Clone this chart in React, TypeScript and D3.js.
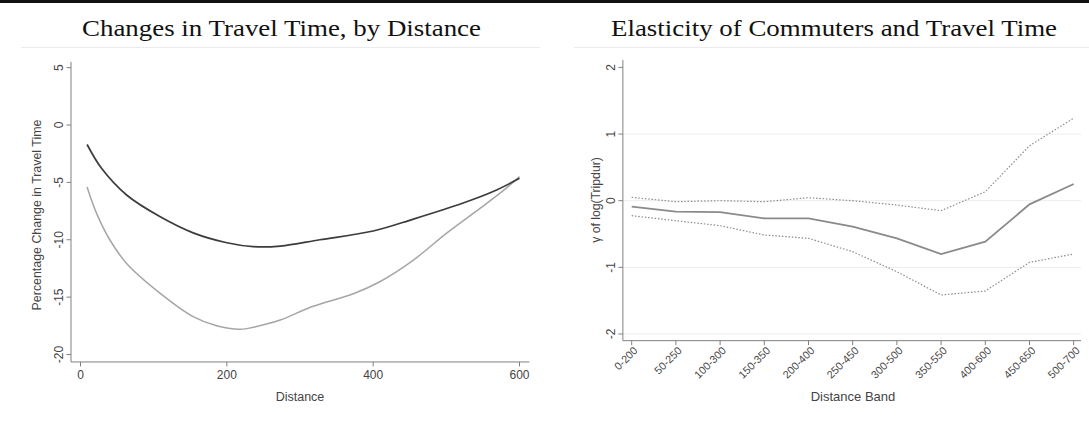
import React from "react";
import * as d3 from "d3";

// left panel: percentage change in travel time by distance
const smoothDark: [number, number][] = [
  [9, -1.7], [29, -3.8], [63, -6.1], [109, -8.0], [154, -9.4], [200, -10.26],
  [236, -10.6], [273, -10.55], [327, -10.0], [400, -9.24], [455, -8.2],
  [523, -6.8], [564, -5.8], [600, -4.65],
];
const smoothGray: [number, number][] = [
  [9, -5.4], [22, -7.7], [40, -10.0], [63, -12.06], [109, -14.67], [154, -16.7],
  [186, -17.5], [218, -17.8], [254, -17.35], [273, -17.0], [318, -15.8],
  [373, -14.7], [409, -13.66], [455, -11.77], [500, -9.44], [546, -7.27],
  [582, -5.5], [600, -4.5],
];
const leftXTicks = [0, 200, 400, 600];
const leftYTicks = [5, 0, -5, -10, -15, -20];

// right panel: elasticity by distance band
const bands = [
  "0-200", "50-250", "100-300", "150-350", "200-400", "250-450",
  "300-500", "350-550", "400-600", "450-650", "500-700",
];
const estimate = [-0.09, -0.165, -0.17, -0.265, -0.265, -0.39, -0.565, -0.8, -0.615, -0.055, 0.25];
const upperCI = [0.05, -0.015, 0.0, -0.015, 0.045, 0.0, -0.065, -0.15, 0.135, 0.825, 1.24];
const lowerCI = [-0.225, -0.3, -0.375, -0.515, -0.565, -0.765, -1.065, -1.415, -1.355, -0.925, -0.8];
const rightYTicks = [2, 1, 0, -1, -2];
const rightGrid = [1, 0, -1, -2];

const sans = "'Liberation Sans', Arial, sans-serif";
const serif = "'Liberation Serif', 'Times New Roman', serif";
const axisColor = "#808080";
const labelColor = "#444";

const LeftPanel = () => {
  const x = d3.scaleLinear().domain([0, 600]).range([80.5, 519.5]);
  const y = d3.scaleLinear().domain([0, -20]).range([125, 354.5]);
  const line = d3
    .line<[number, number]>()
    .x((d) => x(d[0]))
    .y((d) => y(d[1]))
    .curve(d3.curveCatmullRom.alpha(0.5));
  const xMin = x(-13);
  const xMax = x(613.5);
  const yTop = y(5.5);
  const yBot = y(-20.65);
  return (
    <g>
      <text
        x={281.5}
        y={36}
        textAnchor="middle"
        fontFamily={serif}
        fontSize={23}
        fill="#111"
        textLength={399}
        lengthAdjust="spacingAndGlyphs"
      >
        Changes in Travel Time, by Distance
      </text>
      <line x1={21} x2={540} y1={47.5} y2={47.5} stroke="#ececec" />
      {/* axes */}
      <line x1={xMin} x2={xMin} y1={yTop} y2={yBot} stroke={axisColor} />
      <line x1={xMin} x2={xMax} y1={yBot} y2={yBot} stroke={axisColor} />
      {leftYTicks.map((t) => (
        <g key={t} transform={`translate(${xMin},${y(t)})`}>
          <line x1={-4.5} x2={0} stroke={axisColor} />
          <text
            transform="translate(-8,0) rotate(-90)"
            textAnchor="middle"
            fontFamily={sans}
            fontSize={12}
            fill={labelColor}
          >
            {t}
          </text>
        </g>
      ))}
      {leftXTicks.map((t) => (
        <g key={t} transform={`translate(${x(t)},${yBot})`}>
          <line y1={0} y2={4.5} stroke={axisColor} />
          <text
            y={17}
            textAnchor="middle"
            fontFamily={sans}
            fontSize={12}
            fill={labelColor}
          >
            {t}
          </text>
        </g>
      ))}
      <text
        x={300}
        y={401}
        textAnchor="middle"
        fontFamily={sans}
        fontSize={12.5}
        fill={labelColor}
      >
        Distance
      </text>
      <text
        transform="translate(41,215) rotate(-90)"
        textAnchor="middle"
        fontFamily={sans}
        fontSize={12.4}
        fill={labelColor}
      >
        Percentage Change in Travel Time
      </text>
      <path d={line(smoothGray) ?? ""} fill="none" stroke="#a6a6a6" strokeWidth={1.5} />
      <path d={line(smoothDark) ?? ""} fill="none" stroke="#3c3c3c" strokeWidth={1.7} />
    </g>
  );
};

const RightPanel = () => {
  const x = d3.scaleLinear().domain([0, bands.length - 1]).range([631.7, 1073.7]);
  const y = d3.scaleLinear().domain([0, -2]).range([200.7, 334]);
  const line = d3
    .line<number>()
    .x((_, i) => x(i))
    .y((d) => y(d));
  const xMin = x(-0.2);
  const xMax = 1081;
  const yTop = y(2.11);
  const yBot = y(-2.1);
  return (
    <g>
      <text
        x={834}
        y={36}
        textAnchor="middle"
        fontFamily={serif}
        fontSize={23}
        fill="#111"
        textLength={446}
        lengthAdjust="spacingAndGlyphs"
      >
        Elasticity of Commuters and Travel Time
      </text>
      <line x1={574} x2={1089} y1={47.5} y2={47.5} stroke="#ececec" />
      {rightGrid.map((t) => (
        <line key={t} x1={xMin} x2={xMax} y1={y(t)} y2={y(t)} stroke="#ededed" />
      ))}
      <line x1={xMin} x2={xMin} y1={yTop} y2={yBot} stroke={axisColor} />
      <line x1={xMin} x2={xMax} y1={yBot} y2={yBot} stroke={axisColor} />
      {rightYTicks.map((t) => (
        <g key={t} transform={`translate(${xMin},${y(t)})`}>
          <line x1={-4.5} x2={0} stroke={axisColor} />
          <text
            transform="translate(-7.5,0) rotate(-90)"
            textAnchor="middle"
            fontFamily={sans}
            fontSize={12}
            fill={labelColor}
          >
            {t}
          </text>
        </g>
      ))}
      {bands.map((b, i) => (
        <g key={b} transform={`translate(${x(i)},${yBot})`}>
          <line y1={0} y2={4.5} stroke={axisColor} />
          <text
            transform="translate(4,8) rotate(-45)"
            textAnchor="end"
            dy="0.35em"
            fontFamily={sans}
            fontSize={10.8}
            fill={labelColor}
          >
            {b}
          </text>
        </g>
      ))}
      <text
        x={853}
        y={401}
        textAnchor="middle"
        fontFamily={sans}
        fontSize={13}
        fill={labelColor}
      >
        Distance Band
      </text>
      <text
        transform="translate(600,200) rotate(-90)"
        textAnchor="middle"
        fontFamily={sans}
        fontSize={12.2}
        fill={labelColor}
      >
        γ of log(Tripdur)
      </text>
      <path
        d={line(upperCI) ?? ""}
        fill="none"
        stroke="#8c8c8c"
        strokeWidth={1.2}
        strokeDasharray="1.5 1.8"
      />
      <path
        d={line(lowerCI) ?? ""}
        fill="none"
        stroke="#8c8c8c"
        strokeWidth={1.2}
        strokeDasharray="1.5 1.8"
      />
      <path d={line(estimate) ?? ""} fill="none" stroke="#8a8a8a" strokeWidth={1.8} />
    </g>
  );
};

export default function App() {
  return (
    <svg
      width={1089}
      height={426}
      style={{ position: "absolute", left: 0, top: 0, background: "#fff" }}
    >
      <rect x={0} y={0} width={1089} height={3} fill="#111" />
      <LeftPanel />
      <RightPanel />
    </svg>
  );
}
